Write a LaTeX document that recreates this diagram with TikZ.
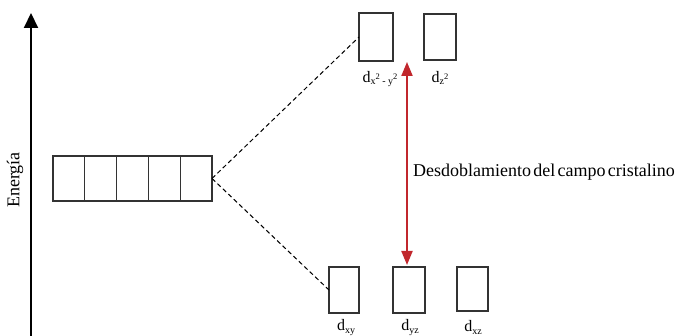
\documentclass[tikz,border=0pt]{standalone}
\usepackage{fontspec}
\setmainfont{Liberation Serif}
\usetikzlibrary{arrows.meta}
\definecolor{boxgray}{HTML}{333333}
\definecolor{splitred}{HTML}{C1272D}
\newcommand{\dsub}[1]{\raisebox{-2.5pt}{\fontsize{10}{10}\selectfont #1}}
\newcommand{\dsup}[1]{\raisebox{5pt}{\fontsize{8.5}{8.5}\selectfont #1}}
\begin{document}
\begin{tikzpicture}[x=1pt,y=1pt,
  orb/.style={draw=boxgray,line width=1.3pt,minimum width=#1,inner sep=0pt,outer sep=0pt},
  lbl/.style={font=\fontsize{16}{18}\selectfont,inner sep=0pt},
  link/.style={line width=1pt,dash pattern=on 4.5pt off 3pt}]
\useasboundingbox (0,0) rectangle (682,336);
% energy axis
\coordinate (ax0) at (31,0);
\coordinate (ax1) at (31,323);
\draw[line width=2pt,-{Triangle[width=14pt,length=15pt]}] (ax0) -- (ax1);
\node[rotate=90,font=\fontsize{18}{20}\selectfont,inner sep=0pt] (energia) at (15,156) {Energía};
% five degenerate orbitals
\foreach \i in {0,...,4}{
  \node[orb=31.8pt,minimum height=45pt,anchor=south west] (r\i) at ({53+31.8*\i},135) {};
}
% upper orbitals
\node[orb=34pt,minimum height=48pt] (a) at (376,299) {};
\node[orb=32pt,minimum height=46pt] (b) at (440,299) {};
% lower orbitals
\node[orb=30pt,minimum height=46pt] (c) at (344,46) {};
\node[orb=32pt,minimum height=46pt] (d) at (409,46) {};
\node[orb=31pt,minimum height=44pt] (e) at (472.5,47) {};
% labels
\node[lbl] (la) at (380,257) {d\dsub{x\dsup{2} - y\dsup{2}}};
\node[lbl] (lb) at (440,258) {d\dsub{z\dsup{2}}};
\node[lbl] (lc) at (346,8.5) {d\dsub{xy}};
\node[lbl] (ld) at (410,8.5) {d\dsub{yz}};
\node[lbl] (le) at (473,8.5) {d\dsub{xz}};
% dashed splitting lines
\draw[link] (r4.east) -- (a.west);
\draw[link] (r4.east) -- (c.west);
% splitting arrow
\coordinate (s1) at (407,274);
\coordinate (s0) at (407,71);
\draw[splitred,line width=2pt,{Triangle[width=11pt,length=14pt]}-{Triangle[width=11pt,length=14pt]}] (s1) -- (s0);
\node[font=\fontsize{18}{20}\selectfont,anchor=west,inner sep=0pt] (split) at (413,164) {Desdoblamiento\hspace{2.2pt}del\hspace{2.2pt}campo\hspace{2.2pt}cristalino};
\end{tikzpicture}
\end{document}
